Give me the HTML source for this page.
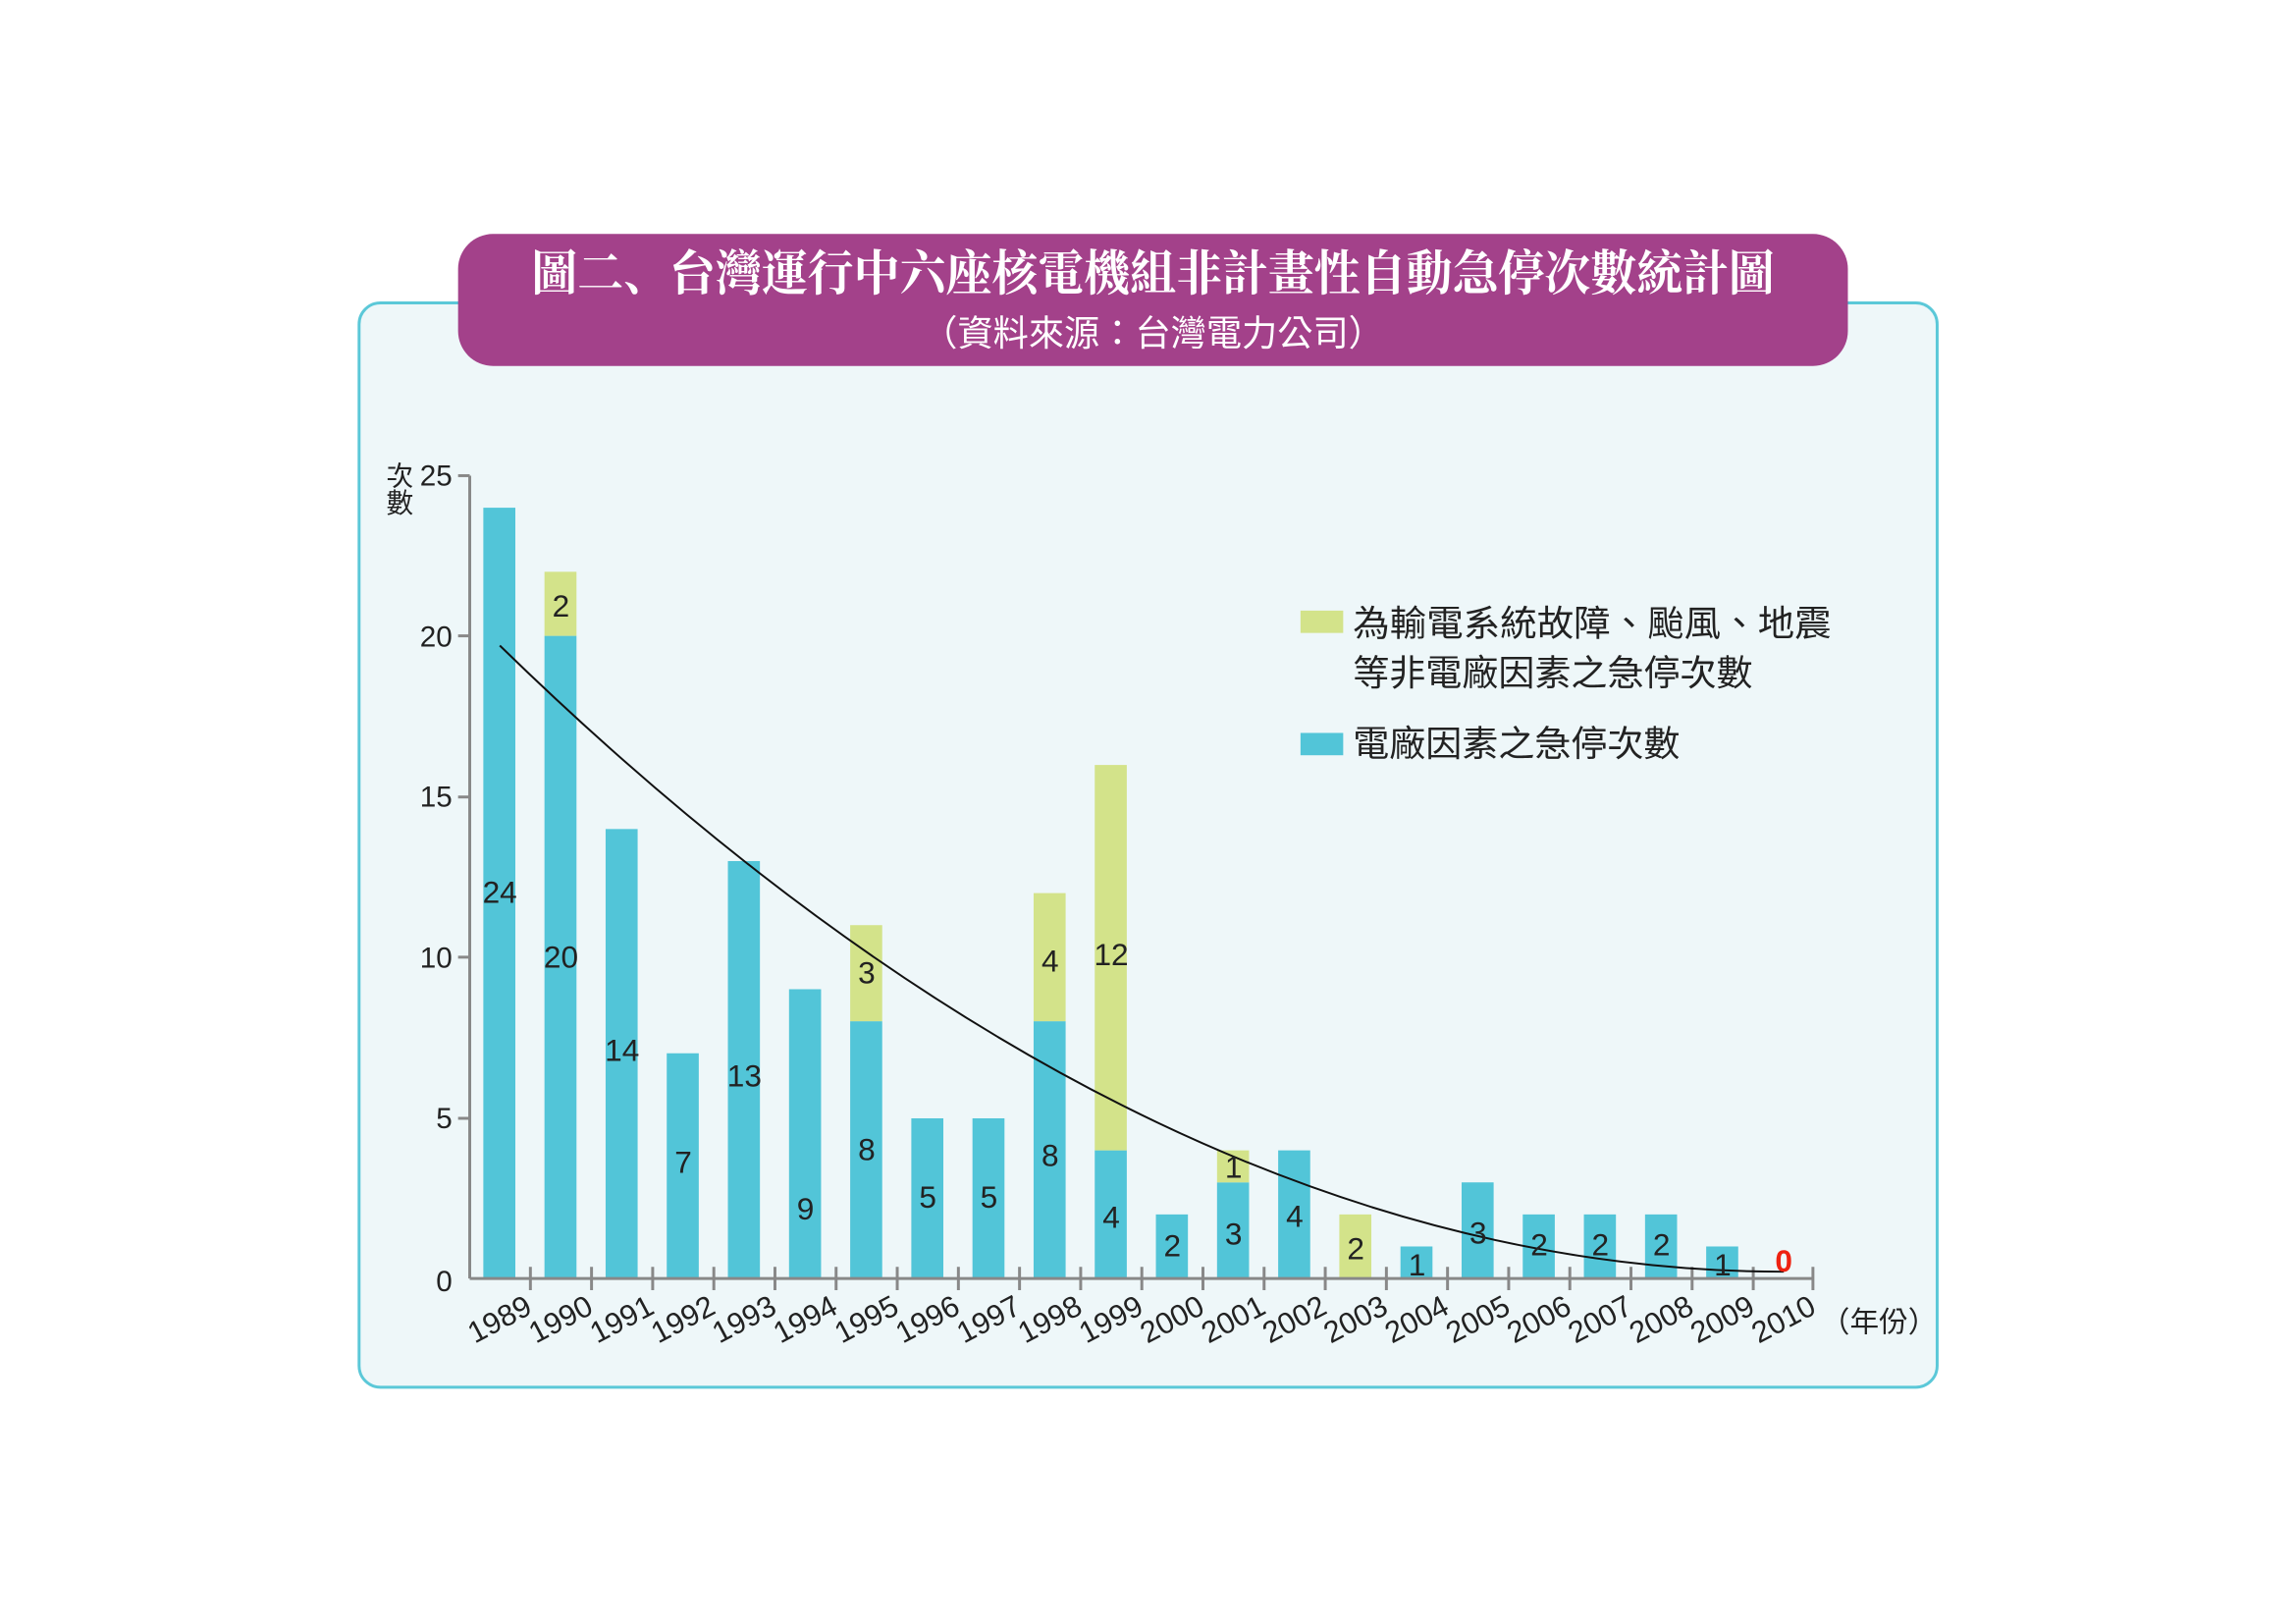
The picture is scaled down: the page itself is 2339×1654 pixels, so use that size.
<!DOCTYPE html>
<html><head><meta charset="utf-8"><style>html,body{margin:0;padding:0;background:#fff}svg{display:block}</style></head>
<body>
<svg width="2339" height="1654" viewBox="0 0 2339 1654" xmlns="http://www.w3.org/2000/svg" font-family="'Liberation Sans','Noto Sans CJK TC',sans-serif">
<rect x="0" y="0" width="2339" height="1654" fill="#fff"/>
<g transform="scale(0.9887)">
<rect x="370" y="312" width="1626" height="1117" rx="22" fill="#eef7f9" stroke="#5bc8d8" stroke-width="3"/>
<rect x="472" y="241" width="1432" height="136" rx="36" fill="#a3418a"/>
<text x="1188" y="299" text-anchor="middle" fill="#fff" font-size="50" font-weight="bold" font-family="'Liberation Serif','Noto Serif CJK SC',serif" textLength="1281" lengthAdjust="spacingAndGlyphs">圖二、台灣運行中六座核電機組非計畫性自動急停次數統計圖</text>
<text x="1188" y="356" text-anchor="middle" fill="#fff" font-size="37" textLength="476" lengthAdjust="spacingAndGlyphs">（資料來源：台灣電力公司）</text>
<g fill="#52c5d8">
<rect x="498" y="523" width="33" height="794"/>
<rect x="561" y="655" width="33" height="662"/>
<rect x="624" y="854" width="33" height="463"/>
<rect x="687" y="1085" width="33" height="232"/>
<rect x="750" y="887" width="33" height="430"/>
<rect x="813" y="1019" width="33" height="298"/>
<rect x="876" y="1052" width="33" height="265"/>
<rect x="939" y="1152" width="33" height="165"/>
<rect x="1002" y="1152" width="33" height="165"/>
<rect x="1065" y="1052" width="33" height="265"/>
<rect x="1128" y="1185" width="33" height="132"/>
<rect x="1191" y="1251" width="33" height="66"/>
<rect x="1254" y="1218" width="33" height="99"/>
<rect x="1317" y="1185" width="33" height="132"/>
<rect x="1443" y="1284" width="33" height="33"/>
<rect x="1506" y="1218" width="33" height="99"/>
<rect x="1569" y="1251" width="33" height="66"/>
<rect x="1632" y="1251" width="33" height="66"/>
<rect x="1695" y="1251" width="33" height="66"/>
<rect x="1758" y="1284" width="33" height="33"/>
</g>
<g fill="#d3e38a">
<rect x="561" y="589" width="33" height="66"/>
<rect x="876" y="953" width="33" height="99"/>
<rect x="1065" y="920" width="33" height="132"/>
<rect x="1128" y="788" width="33" height="397"/>
<rect x="1254" y="1185" width="33" height="33"/>
<rect x="1380" y="1251" width="33" height="66"/>
</g>
<g stroke="#888" stroke-width="3" fill="none">
<line x1="484" y1="490" x2="484" y2="1317"/>
<line x1="484" y1="1317" x2="1868" y2="1317"/>
<line x1="472" y1="490" x2="484" y2="490"/><line x1="472" y1="655" x2="484" y2="655"/><line x1="472" y1="821" x2="484" y2="821"/><line x1="472" y1="986" x2="484" y2="986"/><line x1="472" y1="1152" x2="484" y2="1152"/>
<path d="M546.5 1305V1329M609.5 1305V1329M672.5 1305V1329M735.5 1305V1329M798.5 1305V1329M861.5 1305V1329M924.5 1305V1329M987.5 1305V1329M1050.5 1305V1329M1113.5 1305V1329M1176.5 1305V1329M1239.5 1305V1329M1302.5 1305V1329M1365.5 1305V1329M1428.5 1305V1329M1491.5 1305V1329M1554.5 1305V1329M1617.5 1305V1329M1680.5 1305V1329M1743.5 1305V1329M1806.5 1305V1329M1868 1305V1329"/>
</g>
<path d="M515 665 Q1177 1310 1838 1310" stroke="#111" stroke-width="2" fill="none"/>
<g font-size="30" text-anchor="end" fill="#222">
<text x="466" y="500">25</text><text x="466" y="666">20</text><text x="466" y="831">15</text><text x="466" y="997">10</text><text x="466" y="1162">5</text><text x="466" y="1330">0</text>
</g>
<text x="398" y="500" font-size="28" fill="#222">次</text>
<text x="398" y="528" font-size="28" fill="#222">數</text>
<g font-size="32" text-anchor="middle" fill="#222">
<text x="515" y="930">24</text>
<text x="578" y="997">20</text><text x="578" y="635">2</text>
<text x="641" y="1093">14</text>
<text x="704" y="1208">7</text>
<text x="767" y="1119">13</text>
<text x="830" y="1256">9</text>
<text x="893" y="1195">8</text><text x="893" y="1013">3</text>
<text x="956" y="1244">5</text>
<text x="1019" y="1244">5</text>
<text x="1082" y="1201">8</text><text x="1082" y="1001">4</text>
<text x="1145" y="1265">4</text><text x="1145" y="994">12</text>
<text x="1208" y="1294">2</text>
<text x="1271" y="1282">3</text><text x="1271" y="1213">1</text>
<text x="1334" y="1264">4</text>
<text x="1397" y="1297">2</text>
<text x="1460" y="1314">1</text>
<text x="1523" y="1281">3</text>
<text x="1586" y="1293">2</text>
<text x="1649" y="1293">2</text>
<text x="1712" y="1293">2</text>
<text x="1775" y="1314">1</text>
<text x="1838" y="1310" fill="#e21" font-weight="bold">0</text>
</g>
<g font-size="31" text-anchor="end" fill="#222">
<text transform="translate(550,1352) rotate(-28)">1989</text>
<text transform="translate(613,1352) rotate(-28)">1990</text>
<text transform="translate(676,1352) rotate(-28)">1991</text>
<text transform="translate(739,1352) rotate(-28)">1992</text>
<text transform="translate(802,1352) rotate(-28)">1993</text>
<text transform="translate(865,1352) rotate(-28)">1994</text>
<text transform="translate(928,1352) rotate(-28)">1995</text>
<text transform="translate(991,1352) rotate(-28)">1996</text>
<text transform="translate(1054,1352) rotate(-28)">1997</text>
<text transform="translate(1117,1352) rotate(-28)">1998</text>
<text transform="translate(1180,1352) rotate(-28)">1999</text>
<text transform="translate(1243,1352) rotate(-28)">2000</text>
<text transform="translate(1306,1352) rotate(-28)">2001</text>
<text transform="translate(1369,1352) rotate(-28)">2002</text>
<text transform="translate(1432,1352) rotate(-28)">2003</text>
<text transform="translate(1495,1352) rotate(-28)">2004</text>
<text transform="translate(1558,1352) rotate(-28)">2005</text>
<text transform="translate(1621,1352) rotate(-28)">2006</text>
<text transform="translate(1684,1352) rotate(-28)">2007</text>
<text transform="translate(1747,1352) rotate(-28)">2008</text>
<text transform="translate(1810,1352) rotate(-28)">2009</text>
<text transform="translate(1873,1352) rotate(-28)">2010</text>
</g>
<text x="1876" y="1372" font-size="30" fill="#222">（年份）</text>
<rect x="1340" y="629" width="44" height="23" fill="#d3e38a"/>
<rect x="1340" y="755" width="44" height="23" fill="#52c5d8"/>
<g font-size="37" fill="#222">
<text x="1394" y="655" textLength="493" lengthAdjust="spacingAndGlyphs">為輸電系統故障、颱風、地震</text>
<text x="1394" y="706" textLength="412" lengthAdjust="spacingAndGlyphs">等非電廠因素之急停次數</text>
<text x="1394" y="779" textLength="337" lengthAdjust="spacingAndGlyphs">電廠因素之急停次數</text>
</g>
</g>
</svg>
</body></html>
